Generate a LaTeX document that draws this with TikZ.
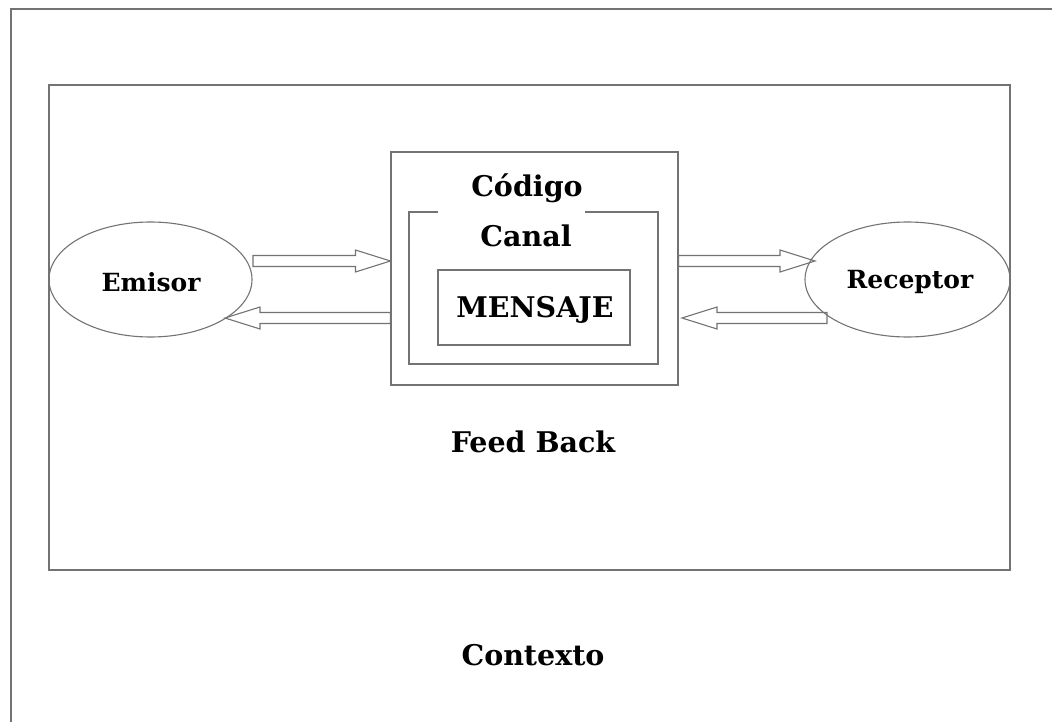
\documentclass[tikz,border=0pt]{standalone}
\usepackage{fontspec}
\setmainfont{DejaVu Serif}
\usetikzlibrary{shapes.geometric,calc}
\tikzset{
  ln/.style={draw=black!55, line width=1.1pt},
  lbl/.style={font=\bfseries\fontsize{28.5}{32}\selectfont, inner sep=0pt},
  small/.style={font=\bfseries\fontsize{25}{29}\selectfont, inner sep=0pt},
  oval/.style={ln, ellipse, inner sep=0pt},
}
\newcommand{\blockarr}[3]{%
  \draw[ln, line join=miter] let \p1=(#1), \p2=(#2) in
   (\x1,\y1+5.5pt) -- ($(\x2,\y1+5.5pt)-(#3*35pt,0)$) -- ($(\x2,\y1+11pt)-(#3*35pt,0)$)
   -- (\x2,\y1) -- ($(\x2,\y1-11pt)-(#3*35pt,0)$) -- ($(\x2,\y1-5.5pt)-(#3*35pt,0)$)
   -- (\x1,\y1-5.5pt) -- cycle;}
\begin{document}
\begin{tikzpicture}[x=1pt,y=-1pt]
\useasboundingbox (0,0) rectangle (1052,722);
% outer context frame
\draw[ln] (1060,9) -- (11,9) -- (11,730);
% inner frame
\draw[ln] (49,85) rectangle (1010,570);
% codigo box
\node[ln, minimum width=287pt, minimum height=233pt, inner sep=0pt] (cod) at (534.5,268.5) {};
% canal box with gap
\draw[ln] (438,212) -- (409,212) -- (409,364) -- (658,364) -- (658,212) -- (585,212);
% mensaje box
\node[ln, minimum width=192pt, minimum height=75pt, inner sep=0pt] (men) at (534,307.5) {};
% ellipses
\node[oval, minimum width=203pt, minimum height=115pt] (emi) at (150.5,279.5) {};
\node[oval, minimum width=205pt, minimum height=115pt] (rec) at (907.5,279.5) {};
% texts
\node[small] (temi) at (151,282) {Emisor};
\node[small] (trec) at (910,282) {Receptor};
\node[lbl] (tcod) at (527,188) {Código};
\node[lbl] (tcan) at (526,236) {Canal};
\node[lbl] (tmen) at (535,310) {MENSAJE};
\node[lbl] (tfb) at (533,442) {Feed Back};
\node[lbl] (tctx) at (533,655) {Contexto};
% arrow end points
\coordinate (a1s) at (253,261);
\coordinate (a1e) at (cod.west |- a1s);
\coordinate (a2s) at (cod.west |- 0,318);
\coordinate (a2e) at (225,318);
\coordinate (a3s) at (cod.east |- a1s);
\coordinate (a3e) at (815,261);
\coordinate (a4s) at (827,318);
\coordinate (a4e) at (682,318);
\blockarr{a1s}{a1e}{1}
\blockarr{a2s}{a2e}{-1}
\blockarr{a3s}{a3e}{1}
\blockarr{a4s}{a4e}{-1}
\end{tikzpicture}
\end{document}
